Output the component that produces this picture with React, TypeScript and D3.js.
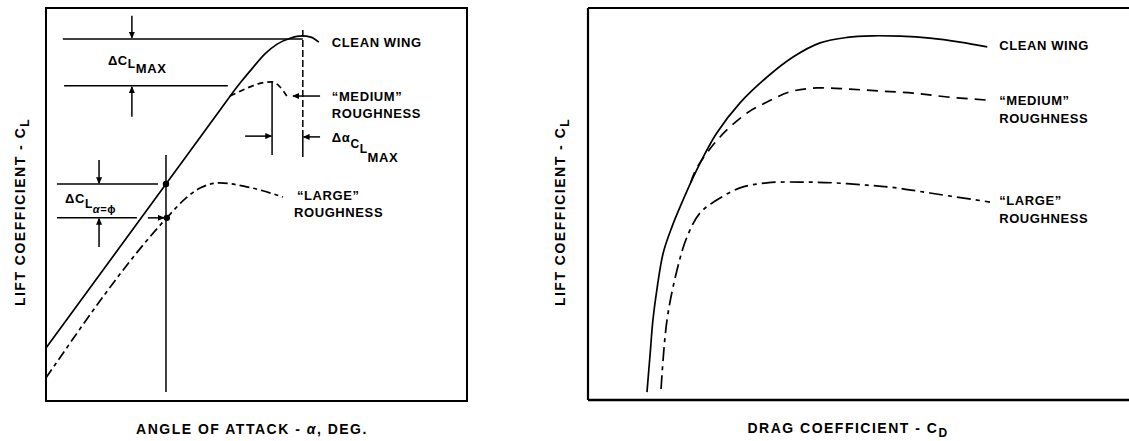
import React from "react";
import * as d3 from "d3";

const W = 1129;
const H = 441;

// ---------- Left panel: lift coefficient vs angle of attack (arbitrary 0-100 units) ----------
const leftCleanAlpha = [0, 28.5, 41.3, 46.1, 49.2, 52.0, 54.9, 58.0, 60.8, 62.9, 64.8];
const leftCleanCL = [13.5, 55.2, 74.0, 80.9, 84.9, 88.3, 90.8, 92.3, 92.9, 92.6, 91.3];

const leftMediumAlpha = [43.7, 47.3, 50.4, 53.7, 55.6, 57.2];
const leftMediumCL = [77.6, 79.4, 80.7, 81.2, 79.9, 77.6];

const leftLargeAlpha = [0, 28.7, 33.5, 36.6, 41.3, 47.7, 56.3];
const leftLargeCL = [5.9, 46.6, 51.9, 54.2, 55.5, 54.5, 51.9];

// ---------- Right panel: lift coefficient vs drag coefficient (arbitrary 0-100 units) ----------
const rightCleanCD = [10.9, 11.5, 12.0, 12.8, 13.9, 15.5, 17.0, 20.1, 23.8, 28.1, 33.1, 37.9, 42.9, 47.9, 52.5, 57.7, 63.2, 68.8, 73.8];
const rightCleanCL = [2.0, 12.0, 20.4, 28.8, 37.5, 44.1, 49.2, 58.7, 68.1, 75.8, 82.4, 87.5, 91.1, 92.5, 92.9, 92.8, 92.3, 91.3, 90.1];

const rightMediumCD = [19.0, 20.1, 24.4, 29.4, 33.1, 37.3, 42.3, 48.4, 54.0, 60.1, 66.4, 73.8];
const rightMediumCL = [55.5, 59.2, 67.1, 73.2, 76.0, 78.6, 79.6, 79.3, 78.8, 78.3, 77.3, 76.5];

const rightLargeCD = [13.5, 14.6, 16.5, 18.3, 20.7, 23.8, 28.1, 33.1, 39.2, 45.3, 51.6, 57.1, 63.2, 74.3];
const rightLargeCL = [2.8, 20.4, 33.4, 41.6, 47.7, 51.0, 54.1, 55.4, 55.6, 55.4, 54.8, 54.1, 52.8, 50.5];

// ---------- Annotation values (left panel units) ----------
const clMaxClean = 92.1;
const clMaxMedium = 80.2;
const alphaStallClean = 61.0;
const alphaStallMedium = 53.7;
const alphaRef = 28.5;
const clRefClean = 55.2;
const clRefLarge = 46.6;

// labels: [text, x, y] in panel units
const leftCurveLabels: [string, number, number][] = [
  ["CLEAN WING", 67.9, 90.1],
  ["\u201CMEDIUM\u201D", 67.9, 76.3],
  ["ROUGHNESS", 67.9, 72.0],
  ["\u201CLARGE\u201D", 59.6, 51.1],
  ["ROUGHNESS", 58.9, 46.8],
];
const rightCurveLabels: [string, number, number][] = [
  ["CLEAN WING", 76.0, 89.3],
  ["\u201CMEDIUM\u201D", 76.0, 75.3],
  ["ROUGHNESS", 76.0, 70.7],
  ["\u201CLARGE\u201D", 76.0, 49.7],
  ["ROUGHNESS", 76.0, 45.2],
];

const FONT = "'Liberation Sans', Arial, Helvetica, sans-serif";

const xL = d3.scaleLinear().domain([0, 100]).range([46, 467]);
const yL = d3.scaleLinear().domain([0, 100]).range([401, 8]);
const xR = d3.scaleLinear().domain([0, 100]).range([588, 1129]);
const yR = d3.scaleLinear().domain([0, 100]).range([400, 8]);

function zip(a: number[], b: number[]): [number, number][] {
  return a.map((v, i) => [v, b[i]]);
}

export default function App() {
  const lineL = d3
    .line<[number, number]>()
    .x((d) => xL(d[0]))
    .y((d) => yL(d[1]))
    .curve(d3.curveMonotoneX);
  const lineR = d3
    .line<[number, number]>()
    .x((d) => xR(d[0]))
    .y((d) => yR(d[1]))
    .curve(d3.curveCatmullRom.alpha(0.5));

  const curveStyle = { fill: "none", stroke: "#000", strokeWidth: 1.7 };
  const annStyle = { stroke: "#000", strokeWidth: 1.5 };
  const textStyle: React.CSSProperties = {
    fontFamily: FONT,
    fontWeight: "bold",
    fontSize: 13,
    letterSpacing: "0.6px",
  };
  const axisStyle: React.CSSProperties = {
    fontFamily: FONT,
    fontWeight: "bold",
    fontSize: 14,
    letterSpacing: "1.5px",
  };

  const arrow = (x1: number, y1: number, x2: number, y2: number, key: string) => (
    <line
      key={key}
      x1={xL(x1)}
      y1={yL(y1)}
      x2={xL(x2)}
      y2={yL(y2)}
      {...annStyle}
      markerEnd="url(#ah)"
    />
  );

  return (
    <svg
      width={W}
      height={H}
      viewBox={`0 0 ${W} ${H}`}
      style={{ position: "absolute", left: 0, top: 0, display: "block", background: "#fff" }}
    >
      <defs>
        <marker
          id="ah"
          markerUnits="userSpaceOnUse"
          markerWidth={8}
          markerHeight={6}
          refX={6}
          refY={3}
          orient="auto"
        >
          <path d="M0,0 L7,3 L0,6 Z" fill="#000" />
        </marker>
      </defs>

      {/* ---------- LEFT PANEL ---------- */}
      <rect
        x={xL(0)}
        y={yL(100)}
        width={xL(100) - xL(0)}
        height={yL(0) - yL(100)}
        fill="none"
        stroke="#000"
        strokeWidth={2}
      />

      <path d={lineL(zip(leftCleanAlpha, leftCleanCL)) || ""} {...curveStyle} />
      <path
        d={lineL(zip(leftMediumAlpha, leftMediumCL)) || ""}
        {...curveStyle}
        strokeDasharray="6,4"
      />
      <path
        d={lineL(zip(leftLargeAlpha, leftLargeCL)) || ""}
        {...curveStyle}
        strokeDasharray="10,4,4,4"
      />

      {/* ΔCLmax reference lines */}
      <line x1={xL(4.0)} x2={xL(alphaStallClean)} y1={yL(clMaxClean)} y2={yL(clMaxClean)} {...annStyle} />
      <line x1={xL(4.3)} x2={xL(43.2)} y1={yL(clMaxMedium)} y2={yL(clMaxMedium)} {...annStyle} />
      {arrow(20.4, 98.0, 20.4, clMaxClean + 0.3, "a1")}
      {arrow(20.4, 72.3, 20.4, clMaxMedium - 0.3, "a2")}

      {/* Δα stall lines */}
      <line x1={xL(alphaStallMedium)} x2={xL(alphaStallMedium)} y1={yL(81.2)} y2={yL(62.6)} {...annStyle} />
      <line
        x1={xL(alphaStallClean)}
        x2={xL(alphaStallClean)}
        y1={yL(94.4)}
        y2={yL(68.2)}
        {...annStyle}
        strokeDasharray="7,3"
      />
      <line x1={xL(alphaStallClean)} x2={xL(alphaStallClean)} y1={yL(68.2)} y2={yL(62.1)} {...annStyle} />
      {arrow(47.3, 67.4, alphaStallMedium - 0.2, 67.4, "a3")}
      {arrow(65.1, 67.2, alphaStallClean + 0.2, 67.2, "a4")}
      {arrow(65.1, 77.6, 58.7, 77.6, "a5")}

      {/* α reference */}
      <line x1={xL(alphaRef)} x2={xL(alphaRef)} y1={yL(62.6)} y2={yL(2.3)} {...annStyle} />
      <line x1={xL(2.6)} x2={xL(26.6)} y1={yL(clRefClean)} y2={yL(clRefClean)} {...annStyle} />
      <line x1={xL(2.6)} x2={xL(21.6)} y1={yL(clRefLarge)} y2={yL(clRefLarge)} {...annStyle} />
      {arrow(24.2, clRefLarge, 28.0, clRefLarge, "a6")}
      {arrow(12.6, 61.3, 12.6, clRefClean + 0.2, "a7")}
      {arrow(12.6, 39.2, 12.6, clRefLarge - 0.2, "a8")}
      <circle cx={xL(alphaRef)} cy={yL(clRefClean)} r={3.2} fill="#000" />
      <circle cx={xL(28.7)} cy={yL(clRefLarge)} r={3.2} fill="#000" />

      {leftCurveLabels.map(([t, x, y], i) => (
        <text key={"ll" + i} x={xL(x)} y={yL(y)} style={textStyle}>
          {t}
        </text>
      ))}

      {/* ΔCLMAX */}
      <text x={xL(14.7)} y={yL(85.5)} style={textStyle}>
        ΔC
        <tspan dy={3} fontSize={12}>L</tspan>
        <tspan dy={5}>MAX</tspan>
      </text>
      {/* Δα CLMAX */}
      <text x={xL(67.9)} y={yL(65.9)} style={textStyle}>
        Δα
        <tspan dy={6} fontSize={12}>C</tspan>
        <tspan dy={5} fontSize={12}>L</tspan>
        <tspan dy={9}>MAX</tspan>
      </text>
      {/* ΔCL α=φ */}
      <text x={xL(4.5)} y={yL(50.4)} style={textStyle}>
        ΔC
        <tspan dy={5} fontSize={12}>L</tspan>
        <tspan dy={5} fontSize={11}>
          <tspan fontStyle="italic">α</tspan>=ϕ
        </tspan>
      </text>

      {/* Left axis titles */}
      <text x={252} y={434} textAnchor="middle" style={axisStyle}>
        ANGLE OF ATTACK - <tspan fontStyle="italic">α</tspan>, DEG.
      </text>
      <text transform="translate(25,212) rotate(-90)" textAnchor="middle" style={axisStyle}>
        LIFT COEFFICIENT - C<tspan dy={4} fontSize={12}>L</tspan>
      </text>

      {/* ---------- RIGHT PANEL ---------- */}
      <line x1={xR(0)} x2={xR(0)} y1={yR(100)} y2={yR(0)} stroke="#000" strokeWidth={2.2} />
      <line x1={xR(0)} x2={xR(100)} y1={yR(100)} y2={yR(100)} stroke="#000" strokeWidth={2} />
      <line x1={xR(0)} x2={xR(100)} y1={yR(0)} y2={yR(0)} stroke="#000" strokeWidth={2.6} />

      <path d={lineR(zip(rightCleanCD, rightCleanCL)) || ""} {...curveStyle} />
      <path
        d={lineR(zip(rightMediumCD, rightMediumCL)) || ""}
        {...curveStyle}
        strokeDasharray="11,7"
      />
      <path
        d={lineR(zip(rightLargeCD, rightLargeCL)) || ""}
        {...curveStyle}
        strokeDasharray="14,5,4,5"
      />

      {rightCurveLabels.map(([t, x, y], i) => (
        <text key={"rl" + i} x={xR(x)} y={yR(y)} style={textStyle}>
          {t}
        </text>
      ))}

      <text x={848} y={433} textAnchor="middle" style={axisStyle}>
        DRAG COEFFICIENT - C<tspan dy={4} fontSize={12}>D</tspan>
      </text>
      <text transform="translate(565,212) rotate(-90)" textAnchor="middle" style={axisStyle}>
        LIFT COEFFICIENT - C<tspan dy={4} fontSize={12}>L</tspan>
      </text>
    </svg>
  );
}
